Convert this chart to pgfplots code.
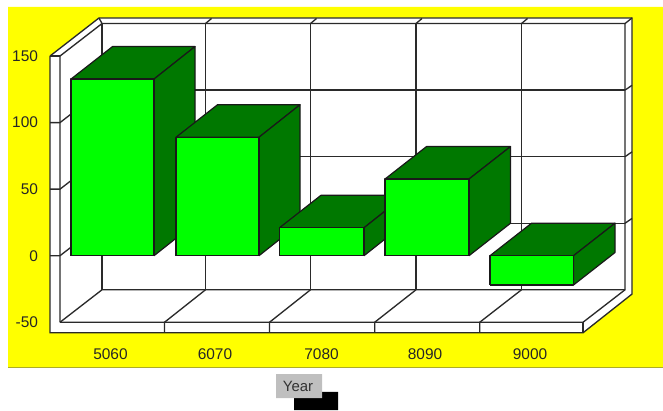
\documentclass[border=0pt]{standalone}
\usepackage{fontspec}
\setmainfont{Liberation Sans}
\usepackage{pgfplots}
\pgfplotsset{compat=1.18}
\definecolor{panel}{HTML}{FFFF00}
\definecolor{barfront}{HTML}{00FF00}
\definecolor{barside}{HTML}{007800}
\definecolor{rule}{HTML}{2A2A2A}
\pgfplotsset{
  frameline/.style={draw=rule,line width=1pt,no markers,forget plot},
  face/.style={fill=#1,draw=black!90,line width=0.9pt,no markers,forget plot,line join=round},
}
\begin{document}
\begin{tikzpicture}
\begin{axis}[
  scale only axis,
  width=497.25pt,height=307.5pt,
  xmin=0,xmax=663,ymin=-115.9,ymax=192.1,
  axis line style={draw=none},
  tick style={draw=none},
  axis on top=true,
  xtick={110.5,215,321.5,425,530},
  xticklabels={5060,6070,7080,8090,9000},
  ytick={-50,0,50,100,150},
  yticklabels={-50,0,50,100,150},
  tick label style={font=\fontsize{11.6}{13}\selectfont,text=black!85},
  xticklabel style={anchor=center,yshift=42pt},
  yticklabel style={anchor=east,xshift=32pt},
]
% panel behind the plot, with its lower rule
\addplot[fill=panel,draw=none,no markers,forget plot] coordinates {(8,186.9) (663,186.9) (663,-83.5) (8,-83.5)} \closedcycle;
\addplot[draw=black!25!panel!70!gray,line width=0.8pt,no markers,forget plot] coordinates {(8,-83.7) (663,-83.7)};

% outer shell of the 3D frame
\addplot[fill=white,frameline] coordinates {(50,150) (99,178.6) (632,178.6) (632,-28.8) (583,-57.9) (50,-57.9) (50,150)};
% inner edges of the walls and floor
\addplot[frameline] coordinates {(60,-50) (60,150) (102,174.4) (625,174.4) (625,-25.6) (583,-50) (60,-50)};
\addplot[frameline] coordinates {(102,174.4) (99,178.6)};
\addplot[frameline] coordinates {(60,-50) (102,-25.6) (625,-25.6)};
\addplot[frameline] coordinates {(102,174.4) (102,-25.6)};
\addplot[frameline] coordinates {(50,150) (60,150)};
\addplot[frameline] coordinates {(583,-50) (583,-57.9)};

% back wall grid
\addplot[frameline] coordinates {(102,124.4) (625,124.4)};
\addplot[frameline] coordinates {(102,74.4) (625,74.4)};
\addplot[frameline] coordinates {(102,24.4) (625,24.4)};
\addplot[frameline] coordinates {(205.5,174.4) (205.5,-25.6)};
\addplot[frameline] coordinates {(310.5,174.4) (310.5,-25.6)};
\addplot[frameline] coordinates {(416,174.4) (416,-25.6)};
\addplot[frameline] coordinates {(521.5,174.4) (521.5,-25.6)};

% left wall grid and value ticks
\addplot[frameline] coordinates {(50,100) (60,100) (102,124.4)};
\addplot[frameline] coordinates {(50,50) (60,50) (102,74.4)};
\addplot[frameline] coordinates {(50,0) (60,0) (102,24.4)};

% floor divisions and front slab ticks
\addplot[frameline] coordinates {(164.5,-57.9) (164.5,-50) (205.5,-25.6)};
\addplot[frameline] coordinates {(269.5,-57.9) (269.5,-50) (310.5,-25.6)};
\addplot[frameline] coordinates {(374.7,-57.9) (374.7,-50) (416,-25.6)};
\addplot[frameline] coordinates {(479.7,-57.9) (479.7,-50) (521.5,-25.6)};

% short links across the top rim
\addplot[frameline] coordinates {(205.5,174.4) (211.5,178.2)};
\addplot[frameline] coordinates {(310.5,174.4) (316.5,178.2)};
\addplot[frameline] coordinates {(416,174.4) (422,178.2)};
\addplot[frameline] coordinates {(521.5,174.4) (527.5,178.2)};
\addplot[frameline] coordinates {(625,174.4) (632,178.6)};
% short links across the right rim
\addplot[frameline] coordinates {(625,124.4) (632,128)};
\addplot[frameline] coordinates {(625,74.4) (632,78)};
\addplot[frameline] coordinates {(625,24.4) (632,28)};

% bar 5060: 132.7
\addplot[face=barside] coordinates {(71,132.7) (112.5,157.1) (195,157.1) (154,132.7) (71,132.7)};
\addplot[face=barside] coordinates {(154,0) (195,24.4) (195,157.1) (154,132.7) (154,0)};
\addplot[face=barfront] coordinates {(71,0) (154,0) (154,132.7) (71,132.7) (71,0)};
% bar 6070: 89
\addplot[face=barside] coordinates {(176,89) (217.5,113.4) (300,113.4) (259,89) (176,89)};
\addplot[face=barside] coordinates {(259,0) (300,24.4) (300,113.4) (259,89) (259,0)};
\addplot[face=barfront] coordinates {(176,0) (259,0) (259,89) (176,89) (176,0)};
% bar 7080: 21
\addplot[face=barside] coordinates {(279.5,21) (321,45.4) (405,45.4) (364,21) (279.5,21)};
\addplot[face=barside] coordinates {(364,0) (405,24.4) (405,45.4) (364,21) (364,0)};
\addplot[face=barfront] coordinates {(279.5,0) (364,0) (364,21) (279.5,21) (279.5,0)};
% bar 8090: 57.6
\addplot[face=barside] coordinates {(385,57.6) (426.5,82) (510.5,82) (469,57.6) (385,57.6)};
\addplot[face=barside] coordinates {(469,0) (510.5,24.4) (510.5,82) (469,57.6) (469,0)};
\addplot[face=barfront] coordinates {(385,0) (469,0) (469,57.6) (385,57.6) (385,0)};
% bar 9000: -22
\addplot[face=barside] coordinates {(490,0) (531.5,24.4) (615,24.4) (573.5,0) (490,0)};
\addplot[face=barside] coordinates {(573.5,-22) (615,2.4) (615,24.4) (573.5,0) (573.5,-22)};
\addplot[face=barfront] coordinates {(490,-22) (573.5,-22) (573.5,0) (490,0) (490,-22)};

% axis caption box with its dark block
\addplot[fill=black,draw=none,no markers,forget plot] coordinates {(294,-102.3) (338,-102.3) (338,-115.9) (294,-115.9) (294,-102.3)};
\addplot[fill=black!25,draw=none,no markers,forget plot] coordinates {(276,-88.9) (322,-88.9) (322,-106.9) (276,-106.9) (276,-88.9)};
\node[font=\fontsize{11.2}{13}\selectfont,text=black!80] at (axis cs:298,-98) {Year};
\end{axis}
\end{tikzpicture}
\end{document}
